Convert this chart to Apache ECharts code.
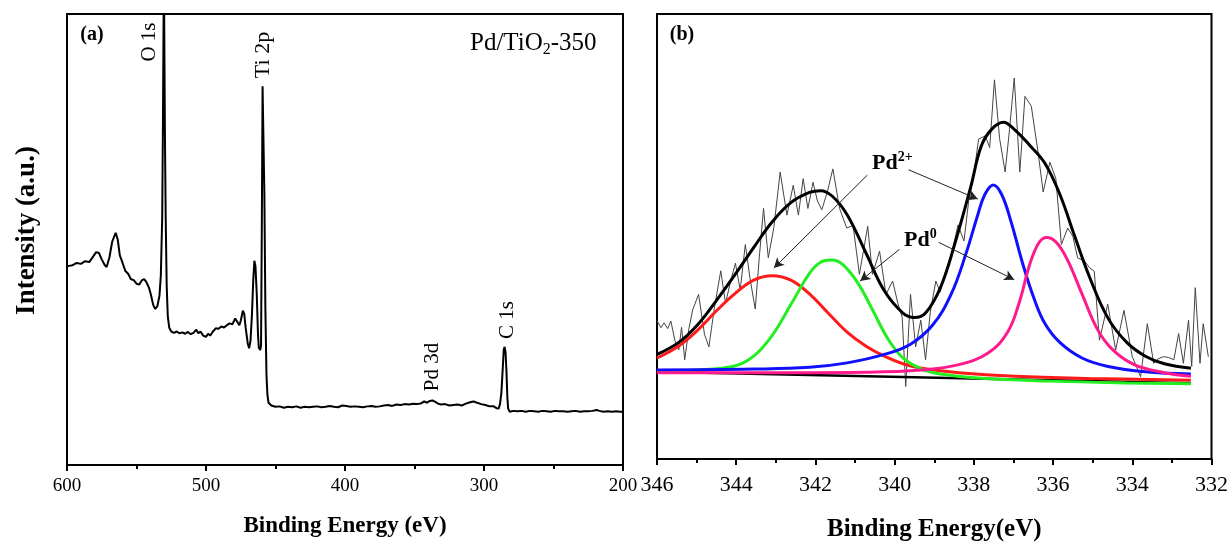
<!DOCTYPE html>
<html>
<head>
<meta charset="utf-8">
<script src="https://cdn.jsdelivr.net/npm/echarts@6/dist/echarts.min.js"></script>
<style>html,body{margin:0;padding:0;background:#fff;}#c{width:1231px;height:547px;}</style>
</head>
<body>
<div id="c"></div>
<script>
// ---------- Panel (a): survey spectrum ----------
const aBE = [599.5,596,593,590,587,584,581,579,577,575,573,571.5,569.5,567.5,565,563.5,562,560,558,556,554,552,550,548,546,544.5,543,541,539.5,538,536.5,535,533.5,532.5,531.5,531,530.3,529.6,529,528.3,527.5,526.5,525,523,521,519,517,515,513,511,509,507,505.5,504,502,500,498.5,497,495,493,491,489,487,485,483,481,479,478,477,476,475,473.5,472.5,471.5,470,469,468,467,466,465.2,464.4,463.5,462.6,462,461,460.4,459.8,459.3,458.6,458,457.3,456.5,455.8,455,453,450,447,444,441,438,435,432,429,426,423,420,417,414,411,408,405,402,399,396,393,390,387,384,381,378,375,372,369,366,363,360,357,354,351,348,345,343,341,339,337,335,333,331,328,325,322,319,316,313,310,307.5,305,302,299,296,293,291,289.5,288.5,287.5,286.5,285.8,285.2,284.5,283.8,283.2,282.6,281.5,279,276,273,270,267,264,261,258,255,252,249,246,243,240,237,234,231,228,225,222,219,217,214,211,208,205,202,200.5];
const aInt = [44.1,44.3,44.8,44.6,45.2,45.0,46.3,47.2,47.0,45.6,44.4,43.9,46.0,49.5,51.5,50.0,46.5,44.8,43.0,42.4,41.2,41.0,40.2,40.0,41.0,41.2,40.6,39.3,37.6,35.5,34.6,35.2,37.5,42.0,55,75,110,75,55,40,33,30.5,29.6,29.3,29.6,29.2,29.4,29.1,29.5,29.0,29.3,30.0,29.2,29.6,28.7,28.4,29.1,28.7,29.6,30.3,30.2,30.7,30.5,31.0,31.4,31.2,32.5,32.8,31.5,31.0,32.0,34.2,33.5,30.5,27.0,25.9,27.5,33.0,41.0,45.3,44.0,38.0,29.0,26.0,25.5,26.5,55,84,84,60,35,20,15.5,13.8,13.2,12.9,13.0,12.7,12.9,12.8,13.0,12.7,12.9,12.8,12.9,13.0,12.8,12.9,13.1,12.9,12.8,13.2,13.1,12.9,13.0,12.9,12.8,13.0,13.1,12.9,13.0,13.2,13.3,13.1,13.4,13.3,13.5,13.4,13.6,13.5,13.7,14.1,13.8,14.2,14.3,14.0,13.6,13.4,13.5,13.2,13.3,13.4,13.2,13.6,13.9,14.1,13.8,13.5,13.3,13.0,13.0,12.6,12.5,13.5,16.0,21.5,25.5,26.2,25.0,20.5,15.0,12.5,11.8,12.0,11.9,12.0,11.8,12.0,11.9,11.8,12.0,11.9,11.8,12.0,11.9,11.9,11.8,11.9,12.0,11.8,11.9,11.9,12.0,12.2,12.0,11.8,11.9,11.8,11.9,11.8,11.8];

// ---------- Panel (b): Pd 3d high resolution ----------
const rawBE = [346.00,345.90,345.82,345.73,345.65,345.55,345.45,345.38,345.30,345.20,345.10,344.95,344.80,344.69,344.55,344.39,344.27,344.14,344.02,343.90,343.77,343.65,343.52,343.42,343.31,343.19,343.05,342.89,342.72,342.56,342.43,342.31,342.19,342.06,341.95,341.84,341.70,341.56,341.39,341.21,341.05,340.89,340.68,340.56,340.38,340.22,340.05,339.92,339.81,339.72,339.60,339.47,339.34,339.22,339.10,338.96,338.85,338.72,338.55,338.40,338.25,338.13,338.00,337.88,337.71,337.60,337.48,337.35,337.21,337.10,336.98,336.84,336.71,336.55,336.38,336.25,336.08,335.93,335.79,335.63,335.50,335.38,335.21,335.08,334.96,334.83,334.62,334.42,334.21,334.00,333.79,333.62,333.46,333.35,333.21,333.08,332.95,332.83,332.71,332.58,332.50,332.41,332.29,332.21,332.08];
const rawInt = [31.1,29.5,30.6,29.3,31.0,26.7,24.5,29.6,22.3,29.0,33.5,37.0,28.0,25.2,34.0,42.3,35.0,40.0,44.0,38.0,48.2,40.5,33.7,45.0,56.3,45.2,52.0,64.5,54.8,61.5,54.8,63.0,56.3,62.2,58.0,56.0,60.0,65.2,56.3,51.9,52.5,41.5,52.3,41.5,46.7,37.0,40.0,35.0,31.9,16.3,37.0,25.2,31.2,22.3,33.0,40.0,37.5,42.0,46.5,52.6,49.0,58.0,64.0,71.9,72.6,70.0,85.2,72.0,64.5,74.0,85.6,64.5,81.5,79.3,69.0,60.0,66.7,63.0,48.2,51.9,50.0,45.2,44.5,43.0,42.2,26.7,34.8,24.5,33.4,23.0,18.5,30.4,21.5,22.5,23.0,22.8,22.3,28.2,21.5,31.2,20.8,38.5,21.5,30.4,23.0];

const envBE  = [346.0,345.45,344.98,344.51,344.04,343.56,343.09,342.62,342.15,341.87,341.58,341.20,340.73,340.26,339.79,339.50,339.22,338.84,338.47,338.08,337.81,337.53,337.25,336.96,336.58,336.21,335.83,335.46,335.08,334.61,334.14,333.67,333.19,332.52];
const envInt = [23.5,26.2,30.1,35.5,41.3,47.5,53.3,57.6,59.9,60.3,59.1,54.9,46.4,37.8,32.8,31.8,32.8,38.6,48.7,61.1,70.4,74.3,75.7,73.9,70.4,66.5,59.5,50.2,40.9,31.6,26.2,23.1,21.4,20.4];

const redBE  = [346.0,345.45,344.98,344.51,344.04,343.56,343.09,342.62,342.15,341.68,341.20,340.73,340.26,339.79,339.32,338.38,336.96,335.08,332.52];
const redInt = [22.7,25.4,28.9,33.2,37.1,40.2,41.2,40.2,37.1,32.8,28.5,25.4,23.1,21.4,20.4,19.4,18.6,18.1,17.7];

const greenBE  = [346.0,344.98,344.04,343.56,343.09,342.62,342.15,341.87,341.58,341.30,340.92,340.54,340.17,339.79,339.32,338.84,337.90,336.02,334.14,332.52];
const greenInt = [19.8,20.0,20.9,23.1,27.8,34.7,41.7,44.2,44.7,43.6,39.4,33.2,27.0,22.7,20.2,19.1,18.2,17.5,17.1,16.9];

const blueBE  = [346.0,343.56,342.15,341.20,340.26,339.60,339.04,338.57,338.19,337.90,337.72,337.51,337.30,337.06,336.77,336.49,336.21,335.83,335.27,334.61,333.67,332.52];
const blueInt = [20.0,20.2,20.6,21.6,23.5,25.8,30.1,37.1,46.4,54.9,59.5,61.6,59.5,53.3,44.0,36.3,30.5,26.2,22.7,20.8,19.6,19.1];

const pinkBE  = [346.0,342.62,340.73,339.32,338.38,337.63,337.15,336.87,336.58,336.35,336.16,335.92,335.64,335.27,334.89,334.51,333.95,333.19,332.52];
const pinkInt = [19.4,19.4,19.5,20.0,21.2,23.9,28.5,34.7,44.0,48.7,49.8,48.7,44.8,37.1,29.3,24.7,21.2,19.4,18.6];

const baseBE  = [346.0,339.8,332.52];
const baseInt = [19.6,18.4,17.0];

const pair = (xs, ys) => xs.map((x, i) => [x, ys[i]]);
const FONT = 'Liberation Serif';

const chart = echarts.init(document.getElementById('c'), null, {renderer: 'canvas'});

const xCommon = {
  type: 'value', inverse: true, nameLocation: 'middle',
  axisLine: {show: true, lineStyle: {color: '#000', width: 2}},
  axisTick: {show: true, inside: false, length: 6, lineStyle: {color: '#000', width: 2}},
  minorTick: {show: true, splitNumber: 2, length: 4, lineStyle: {color: '#000', width: 2}},
  splitLine: {show: false},
};
const yCommon = {
  type: 'value', min: 0, max: 100,
  axisLine: {show: false}, axisTick: {show: false}, axisLabel: {show: false}, splitLine: {show: false}
};

chart.setOption({
  animation: false,
  backgroundColor: '#fff',
  grid: [
    {left: 67, right: 608, top: 14, bottom: 82, show: true, borderColor: '#000', borderWidth: 2},
    {left: 657, right: 18, top: 14, bottom: 82, show: true, borderColor: '#000', borderWidth: 2}
  ],
  xAxis: [
    Object.assign({}, xCommon, {
      gridIndex: 0, min: 200, max: 600, interval: 100,
      name: 'Binding Energy (eV)', nameGap: 50,
      nameTextStyle: {fontFamily: FONT, fontWeight: 'bold', fontSize: 23, color: '#000'},
      axisLabel: {fontFamily: FONT, fontSize: 19, color: '#000', margin: 12}
    }),
    Object.assign({}, xCommon, {
      gridIndex: 1, min: 332, max: 346, interval: 2,
      name: 'Binding Energy(eV)', nameGap: 58,
      nameTextStyle: {fontFamily: FONT, fontWeight: 'bold', fontSize: 25, color: '#000'},
      axisLabel: {fontFamily: FONT, fontSize: 22, color: '#000', margin: 15}
    })
  ],
  yAxis: [
    Object.assign({}, yCommon, {
      gridIndex: 0, name: 'Intensity (a.u.)', nameLocation: 'middle', nameGap: 26,
      nameTextStyle: {fontFamily: FONT, fontWeight: 'bold', fontSize: 27, color: '#000', padding: [0, 0, 0, 18]}
    }),
    Object.assign({}, yCommon, {gridIndex: 1})
  ],
  series: [
    {type: 'line', xAxisIndex: 0, yAxisIndex: 0, data: pair(aBE, aInt), showSymbol: false,
     lineStyle: {color: '#000', width: 2}, clip: true},
    {type: 'line', xAxisIndex: 1, yAxisIndex: 1, data: pair(rawBE, rawInt), showSymbol: false,
     lineStyle: {color: '#444', width: 1}},
    {type: 'line', xAxisIndex: 1, yAxisIndex: 1, data: pair(baseBE, baseInt), showSymbol: false,
     lineStyle: {color: '#000', width: 2.5}},
    {type: 'line', xAxisIndex: 1, yAxisIndex: 1, data: pair(redBE, redInt), showSymbol: false, smooth: 0.4,
     lineStyle: {color: '#ff1a1a', width: 3}},
    {type: 'line', xAxisIndex: 1, yAxisIndex: 1, data: pair(greenBE, greenInt), showSymbol: false, smooth: 0.4,
     lineStyle: {color: '#22ee22', width: 3}},
    {type: 'line', xAxisIndex: 1, yAxisIndex: 1, data: pair(blueBE, blueInt), showSymbol: false, smooth: 0.4,
     lineStyle: {color: '#1010ff', width: 3}},
    {type: 'line', xAxisIndex: 1, yAxisIndex: 1, data: pair(pinkBE, pinkInt), showSymbol: false, smooth: 0.4,
     lineStyle: {color: '#ff1a8c', width: 3}},
    {type: 'line', xAxisIndex: 1, yAxisIndex: 1, data: pair(envBE, envInt), showSymbol: false, smooth: 0.4,
     lineStyle: {color: '#000', width: 3},
     markLine: {
       silent: true, symbol: ['none', 'arrow'], symbolSize: [8, 10],
       label: {show: false},
       lineStyle: {color: '#222', width: 1, type: 'solid'},
       data: [
         [{coord: [340.69, 63.8]}, {coord: [343.05, 42.9]}],
         [{coord: [339.65, 65.0]}, {coord: [337.90, 58.4]}],
         [{coord: [339.88, 47.1]}, {coord: [340.87, 40.0]}],
         [{coord: [338.89, 48.7]}, {coord: [336.98, 40.3]}]
       ]
     }}
  ],
  graphic: [
    {type: 'text', x: 92, y: 35, style: {text: '(a)', font: 'bold 20px "Liberation Serif"', fill: '#000', align: 'center', verticalAlign: 'middle'}},
    {type: 'text', x: 149, y: 42, rotation: Math.PI / 2, style: {text: 'O 1s', font: '21px "Liberation Serif"', fill: '#000', align: 'center', verticalAlign: 'middle'}},
    {type: 'text', x: 263, y: 55, rotation: Math.PI / 2, style: {text: 'Ti 2p', font: '22px "Liberation Serif"', fill: '#000', align: 'center', verticalAlign: 'middle'}},
    {type: 'text', x: 432, y: 367, rotation: Math.PI / 2, style: {text: 'Pd 3d', font: '21px "Liberation Serif"', fill: '#000', align: 'center', verticalAlign: 'middle'}},
    {type: 'text', x: 507, y: 320, rotation: Math.PI / 2, style: {text: 'C 1s', font: '21px "Liberation Serif"', fill: '#000', align: 'center', verticalAlign: 'middle'}},
    {type: 'text', x: 470, y: 29, style: {
      text: '{n|Pd/TiO}{s|2}{n|-350}',
      rich: {
        n: {fontFamily: FONT, fontSize: 25, lineHeight: 29, color: '#000'},
        s: {fontFamily: FONT, fontSize: 16, lineHeight: 16, verticalAlign: 'bottom', color: '#000'}
      }}},
    {type: 'text', x: 682, y: 35, style: {text: '(b)', font: 'bold 20px "Liberation Serif"', fill: '#000', align: 'center', verticalAlign: 'middle'}},
    {type: 'text', x: 872, y: 150, style: {
      text: '{n|Pd}{s|2+}',
      rich: {
        n: {fontFamily: FONT, fontWeight: 'bold', fontSize: 22, lineHeight: 26, color: '#000'},
        s: {fontFamily: FONT, fontWeight: 'bold', fontSize: 14, lineHeight: 14, verticalAlign: 'top', color: '#000'}
      }}},
    {type: 'text', x: 904, y: 227, style: {
      text: '{n|Pd}{s|0}',
      rich: {
        n: {fontFamily: FONT, fontWeight: 'bold', fontSize: 22, lineHeight: 26, color: '#000'},
        s: {fontFamily: FONT, fontWeight: 'bold', fontSize: 14, lineHeight: 14, verticalAlign: 'top', color: '#000'}
      }}}
  ]
});
</script>
</body>
</html>
